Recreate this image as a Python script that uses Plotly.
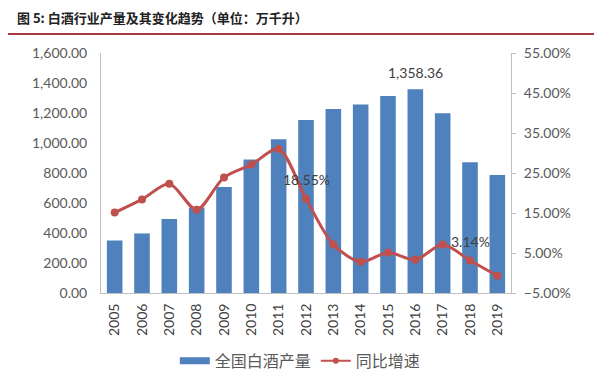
import plotly.graph_objects as go

years = [str(y) for y in range(2005, 2020)]
output = [349.4, 397.1, 493.9, 569.3, 706.9, 890.8, 1025.6, 1153.2, 1226.2, 1257.1, 1312.8, 1358.36, 1198.1, 871.2, 785.9]
growth = [15.1, 18.4, 22.3, 15.8, 23.9, 27.1, 31.0, 18.55, 7.1, 2.8, 5.1, 3.3, 7.1, 3.14, -0.7]
bar_label_idx = [11]
line_label_idx = [7, 13]

FONT = "Lato, 'Noto Sans CJK SC', sans-serif"
CJK = "'Noto Sans CJK SC', sans-serif"
BLUE = "#4F81BD"
RED = "#C0504D"

fig = go.Figure()
fig.add_trace(go.Bar(
    x=years, y=output, name="全国白酒产量", showlegend=False,
    marker=dict(color=BLUE, line=dict(width=0)),
    yaxis="y",
))
fig.add_trace(go.Scatter(
    x=years, y=growth, name="同比增速", yaxis="y2", showlegend=False,
    mode="lines+markers",
    line=dict(color=RED, width=3, shape="spline", smoothing=0.8),
    marker=dict(color=RED, size=8),
    cliponaxis=False,
))
# legend entries
fig.add_trace(go.Scatter(x=[years[0]], y=[None], name="全国白酒产量", mode="lines",
                         line=dict(color=BLUE, width=7), hoverinfo="skip"))
fig.add_trace(go.Scatter(x=[years[0]], y=[None], name="同比增速", mode="lines+markers",
                         line=dict(color=RED, width=2), marker=dict(color=RED, size=6),
                         hoverinfo="skip"))

# on a category axis, annotation x is the category index
for i in bar_label_idx:
    fig.add_annotation(x=i, y=output[i], xref="x", yref="y",
                       text=f"{output[i]:,.2f}", showarrow=False, yshift=17,
                       font=dict(family=FONT, size=14, color="#404040"))
for i in line_label_idx:
    fig.add_annotation(x=i, y=growth[i], xref="x", yref="y2",
                       text=f"{growth[i]:.2f}%", showarrow=False, yshift=19,
                       font=dict(family=FONT, size=14, color="#404040"))

fig.update_layout(
    width=594, height=368,
    margin=dict(l=93, r=91, t=45, b=83, autoexpand=False),
    paper_bgcolor="white", plot_bgcolor="white",
    bargap=0.43,
    font=dict(family=FONT, size=12, color="#595959"),
    showlegend=True,
    legend=dict(orientation="h", x=0.18, xanchor="left", y=-0.283, yanchor="middle",
                font=dict(family=CJK, size=16, color="#595959"),
                traceorder="normal", bgcolor="rgba(0,0,0,0)"),
    xaxis=dict(type="category", categoryorder="array", categoryarray=years,
               range=[-0.5, len(years) - 0.5],
               tickangle=-90, showline=True, linecolor="#BFBFBF",
               linewidth=1, ticks="", showgrid=False, automargin=False,
               ticklabelstandoff=4,
               tickfont=dict(family=FONT, size=14, color="#404040")),
    yaxis=dict(range=[0, 1600], dtick=200, tickformat=",.2f", showline=True,
               linecolor="#BFBFBF", linewidth=1, showgrid=False, zeroline=False,
               ticks="", automargin=False, ticklabelstandoff=10,
               tickfont=dict(family=FONT, size=14, color="#595959")),
    yaxis2=dict(range=[-5, 55], dtick=10, tick0=-5, overlaying="y", side="right",
                showline=True, linecolor="#BFBFBF", linewidth=1, showgrid=False,
                zeroline=False, ticks="outside", ticklen=4, tickcolor="#BFBFBF",
                ticksuffix="%", tickformat=".2f", automargin=False,
                ticklabelstandoff=5,
                tickfont=dict(family=FONT, size=14, color="#595959")),
)

fig.add_annotation(
    text="<b>图 5: 白酒行业产量及其变化趋势（单位：万千升）</b>",
    xref="paper", yref="paper", x=-0.21, y=1.15, xanchor="left", yanchor="middle",
    showarrow=False, font=dict(family=CJK, size=13, color="#222222"),
)
fig.add_shape(type="line", xref="paper", yref="paper",
              x0=-0.229, x1=1.21, y0=1.079, y1=1.079,
              line=dict(color="#A8383B", width=2))

fig.write_html("out.html")
